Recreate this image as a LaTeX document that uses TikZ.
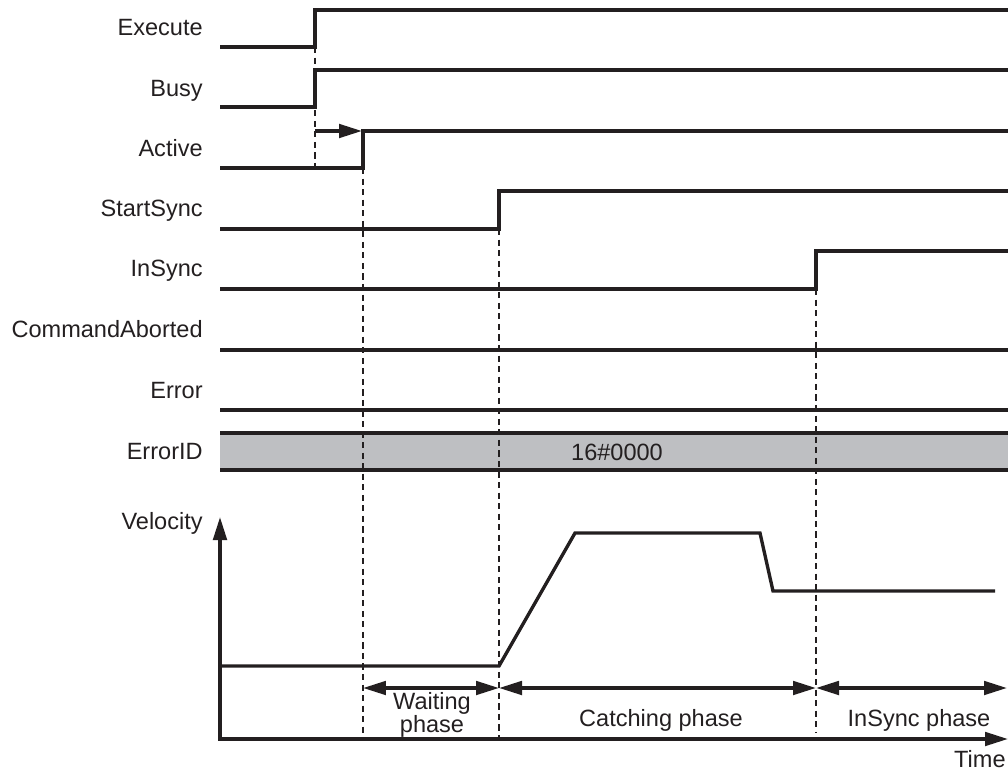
\documentclass[tikz,border=0pt]{standalone}
\usepackage{fontspec}
\setmainfont{Liberation Sans}
\definecolor{sigblack}{RGB}{35,31,32}
\definecolor{idgray}{RGB}{190,191,194}
\usetikzlibrary{arrows.meta,positioning}

\begin{document}
\begin{tikzpicture}[x=0.02cm,y=-0.02cm,
  signal/.style={sigblack, line width=1.9pt},
  guide/.style={sigblack, line width=0.6pt, dash pattern=on 3.5pt off 2.5pt},
  lbl/.style={anchor=base east, font=\fontsize{13.4}{13}\selectfont, text=sigblack, inner sep=0pt},
  phasetxt/.style={anchor=base, font=\fontsize{13.4}{13}\selectfont, text=sigblack, inner sep=0pt, align=center},
  phase/.style={sigblack, line width=1.9pt, {Triangle[length=0.46cm,width=0.27cm]}-{Triangle[length=0.46cm,width=0.27cm]}},
  onearrow/.style={sigblack, line width=1.9pt, -{Triangle[length=0.46cm,width=0.27cm]}}]
  \useasboundingbox (0,0) rectangle (1008,774);

  % Signal names
  \node[lbl] (lexec) at (203,35) {Execute};
  \node[lbl] (lbusy) at (203,96) {Busy};
  \node[lbl] (lact) at (203,156) {Active};
  \node[lbl] (lstart) at (203,216.5) {StartSync};
  \node[lbl] (lins) at (203,276.5) {InSync};
  \node[lbl] (labort) at (203,337.5) {CommandAborted};
  \node[lbl] (lerr) at (203,398.5) {Error};
  \node[lbl] (lid) at (203,459.5) {ErrorID};
  \node[lbl] (lvel) at (203,529.5) {Velocity};

  % ErrorID bar
  \fill[idgray] (220,433) rectangle (1008,470);
  \draw[signal] (220,433) -- (1008,433);
  \draw[signal] (220,470) -- (1008,470);
  \node[phasetxt, anchor=center] (idval) at (617,452) {16\#0000};

  % Timing guides
  \draw[guide] (315,47) -- (315,168);
  \draw[guide] (363,168) -- (363,735);
  \draw[guide] (499,229) -- (499,739);
  \draw[guide] (816,289) -- (816,733);

  % Signals
  \draw[signal] (220,47) -- (315,47) -- (315,10) -- (1008,10);
  \draw[signal] (220,107) -- (315,107) -- (315,70) -- (1008,70);
  \draw[signal] (220,168) -- (363,168) -- (363,131) -- (1008,131);
  \draw[signal] (220,229) -- (499,229) -- (499,191) -- (1008,191);
  \draw[signal] (220,289) -- (816,289) -- (816,251) -- (1008,251);
  \draw[signal] (220,350) -- (1008,350);
  \draw[signal] (220,410) -- (1008,410);

  % Delay from Busy to Active
  \coordinate (actfrom) at (315,131);
  \coordinate (actto) at (362,131);
  \draw[onearrow] (actfrom) -- (actto);

  % Velocity graph
  \draw[signal, {Triangle[length=0.46cm,width=0.27cm]}-{Triangle[length=0.46cm,width=0.27cm]}]
    (220,517) -- (220,739) -- (1008,739);
  \draw[signal] (220,666) -- (499,666) -- (575,533) -- (760,533) -- (773,591) -- (995,591);
  \node[lbl] (ltime) at (1006,767) {Time};

  % Phases
  \coordinate (p0) at (363,688);
  \coordinate (p1) at (499,688);
  \coordinate (p2) at (816,688);
  \coordinate (p3) at (1007,688);
  \draw[phase] (p0) -- (p1);
  \draw[phase] (p1) -- (p2);
  \draw[phase] (p2) -- (p3);
  \node[phasetxt] (twait) at (432,732) {Waiting\\phase};
  \node[phasetxt] (tcatch) at (661,726) {Catching phase};
  \node[phasetxt] (tsync) at (919,726) {InSync phase};
\end{tikzpicture}
\end{document}
